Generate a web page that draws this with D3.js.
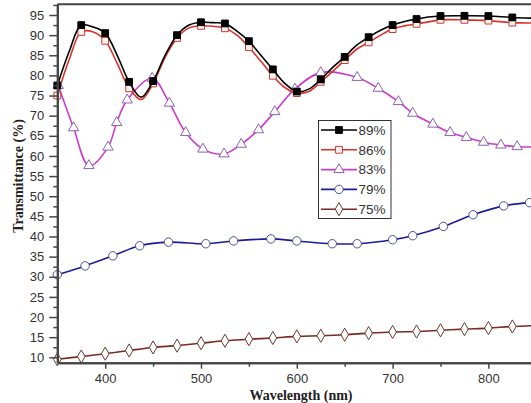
<!DOCTYPE html>
<html>
<head>
<meta charset="utf-8">
<script src="https://cdn.jsdelivr.net/npm/d3@7"></script>
<style>
  body { margin: 0; background: #fff; }
  svg { display: block; }
  .tick text { font-family: "Liberation Sans", Arial, sans-serif; font-size: 13px; fill: #333; }
  .axis-title { font-family: "Liberation Serif", "Times New Roman", serif; font-weight: bold; font-size: 14px; fill: #222; }
  .legend text { font-family: "Liberation Sans", Arial, sans-serif; font-size: 13.5px; fill: #333; }
</style>
</head>
<body>
<div id="chart"></div>
<script>
const svgWidth = 531
const svgHeight = 403

// wavelengths (nm) and transmittance (%)
const w89 = [350, 362.5, 375, 387.5, 400, 412.5, 425, 437.5, 450, 462.5, 475, 487.5, 500, 512.5, 525, 537.5, 550, 562.5, 575, 587.5, 600, 612.5, 625, 637.5, 650, 662.5, 675, 687.5, 700, 712.5, 725, 737.5, 750, 775, 800, 825, 850]
const t89 = [77.5, 86, 92.5, 92, 90.5, 85, 78.4, 74.6, 78.6, 85, 90, 92.5, 93.2, 93.1, 92.9, 91, 88.5, 85, 81.5, 78, 76, 76.6, 79, 82, 84.6, 87.5, 89.5, 91.2, 92.5, 93.4, 94, 94.5, 94.75, 94.8, 94.75, 94.4, 94.2]
const t86 = [75, 84, 90.8, 90.8, 88.6, 83, 76.8, 74, 78, 84.5, 89.3, 91.8, 92.3, 92.2, 91.7, 90, 87, 83.5, 79.9, 77, 75.6, 76, 78.4, 81, 83.8, 86.5, 88.2, 90, 91.5, 92.3, 92.8, 93.3, 93.8, 93.8, 93.6, 93.1, 93]

const w83 = [351, 367, 383, 403, 412, 423, 449, 467, 484, 502, 524, 542, 560, 577, 598, 625, 663, 685, 706, 721, 742, 760, 777, 795, 813, 830, 850]
const t83 = [77.5, 67, 57.6, 62.2, 68.3, 73.9, 79.3, 73.1, 65.8, 61.7, 60.5, 62.9, 66.5, 71, 76.6, 80.7, 79.5, 76.8, 73.5, 70.6, 67.9, 65.8, 64.6, 63.4, 62.7, 62.3, 62.2]

const w79 = [350, 379, 408, 436, 466, 505, 534, 573, 600, 637, 663, 700, 721, 753, 784, 816, 843]
const t79 = [30.5, 32.7, 35.2, 37.7, 38.6, 38.2, 38.9, 39.4, 38.9, 38.2, 38.2, 39.2, 40.2, 42.5, 45.4, 47.6, 48.4]

const w75 = [350, 375, 400, 425, 450, 475, 500, 525, 550, 575, 600, 625, 650, 675, 700, 725, 750, 775, 800, 825, 850]
const t75 = [9.5, 10.2, 10.9, 11.7, 12.45, 12.9, 13.5, 14.1, 14.5, 14.8, 15.2, 15.35, 15.6, 16, 16.3, 16.4, 16.7, 17, 17.25, 17.65, 17.9]

const seriesNames = ["89%", "86%", "83%", "79%", "75%"]
const xTicks = [400, 500, 600, 700, 800]
const yTicks = d3.range(10, 96, 5)

let series = [
  { name: "89%", w: w89, t: t89, color: "#000000", stroke: "#000000", fill: "#000000", symbol: d3.symbolSquare, size: 46, markEvery: 25 },
  { name: "86%", w: w89, t: t86, color: "#d9332b", stroke: "#c83a30", fill: "#fff4f2", symbol: d3.symbolSquare, size: 46, markEvery: 25 },
  { name: "83%", w: w83, t: t83, color: "#cc3acc", stroke: "#8a62b0", fill: "#ffffff", symbol: d3.symbolTriangle, size: 46, markEvery: 0 },
  { name: "79%", w: w79, t: t79, color: "#1c1c98", stroke: "#4a5290", fill: "#ffffff", symbol: d3.symbolCircle, size: 56, markEvery: 0 },
  { name: "75%", w: w75, t: t75, color: "#7a2a22", stroke: "#6a3a30", fill: "#ffffff", symbol: d3.symbolDiamond, size: 50, markEvery: 0 }
]

const x0 = 57.3, x1 = 536.3
const yTop = 4.3, yBot = 362.7

let svg = d3.select("#chart").append("svg")
  .attr("width", svgWidth)
  .attr("height", svgHeight)

let x = d3.scaleLinear().domain([350, 850]).range([x0, x1])
let y = d3.scaleLinear().domain([8.66, 97.66]).range([yBot, yTop])

// curves
let line = d3.line()
  .x(d => x(d[0]))
  .y(d => y(d[1]))
  .curve(d3.curveCatmullRom.alpha(0.5))

// draw in reverse so 89% sits on top
series.slice().reverse().forEach(s => {
  let pts = s.w.map((w, i) => [w, s.t[i]])
  svg.append("path")
    .datum(pts)
    .attr("fill", "none")
    .attr("stroke", s.color)
    .attr("stroke-width", 1.6)
    .attr("d", line)

  let marks = s.markEvery ? pts.filter(p => p[0] % s.markEvery === 0) : pts
  svg.append("g")
    .selectAll("path")
    .data(marks)
    .enter()
    .append("path")
    .attr("transform", d => `translate(${x(d[0])}, ${y(d[1])})`)
    .attr("d", d3.symbol().type(s.symbol).size(s.size))
    .attr("fill", s.fill)
    .attr("stroke", s.stroke)
    .attr("stroke-width", 1)
})

// axes
let styleAxis = g => {
  g.select(".domain").attr("stroke", "#444").attr("stroke-width", 2)
  g.selectAll(".tick line").attr("stroke", "#444").attr("stroke-width", 1.5)
}

svg.append("g")
  .attr("transform", `translate(0, ${yBot})`)
  .call(d3.axisBottom(x).tickValues([450, 550, 650, 750]).tickSize(4).tickSizeOuter(0).tickFormat(""))
  .call(styleAxis)

svg.append("g")
  .attr("transform", `translate(0, ${yBot})`)
  .call(d3.axisBottom(x).tickValues(xTicks).tickSize(6).tickSizeOuter(0).tickPadding(5))
  .call(styleAxis)

svg.append("g")
  .attr("transform", `translate(${x0}, 0)`)
  .call(d3.axisLeft(y).tickValues(d3.range(12.5, 97.6, 5)).tickSize(4).tickSizeOuter(0).tickFormat(""))
  .call(styleAxis)

svg.append("g")
  .attr("transform", `translate(${x0}, 0)`)
  .call(d3.axisLeft(y).tickValues(yTicks).tickSize(8).tickSizeOuter(0).tickPadding(5))
  .call(styleAxis)

// top frame line
svg.append("line")
  .attr("x1", x0).attr("x2", svgWidth)
  .attr("y1", yTop).attr("y2", yTop)
  .attr("stroke", "#444")
  .attr("stroke-width", 2)

// axis titles
svg.append("text")
  .attr("class", "axis-title")
  .attr("x", 301)
  .attr("y", 399.5)
  .attr("text-anchor", "middle")
  .text("Wavelength (nm)")

svg.append("text")
  .attr("class", "axis-title")
  .attr("transform", "translate(23, 176) rotate(-90)")
  .attr("text-anchor", "middle")
  .text("Transmittance (%)")

// legend
let legend = svg.append("g").attr("class", "legend")
legend.append("rect")
  .attr("x", 318.5).attr("y", 120.5)
  .attr("width", 72.5).attr("height", 98)
  .attr("fill", "#fff")
  .attr("stroke", "#333")
  .attr("stroke-width", 1)

series.forEach((s, i) => {
  let ly = 130 + i * 19.8
  legend.append("line")
    .attr("x1", 321).attr("x2", 357)
    .attr("y1", ly).attr("y2", ly)
    .attr("stroke", s.color)
    .attr("stroke-width", 1.6)
  legend.append("path")
    .attr("transform", `translate(339, ${ly})`)
    .attr("d", d3.symbol().type(s.symbol).size(s.size))
    .attr("fill", s.fill)
    .attr("stroke", s.stroke)
  legend.append("text")
    .attr("x", 358.5)
    .attr("y", ly)
    .attr("dy", "0.36em")
    .text(seriesNames[i])
})
</script>
</body>
</html>
